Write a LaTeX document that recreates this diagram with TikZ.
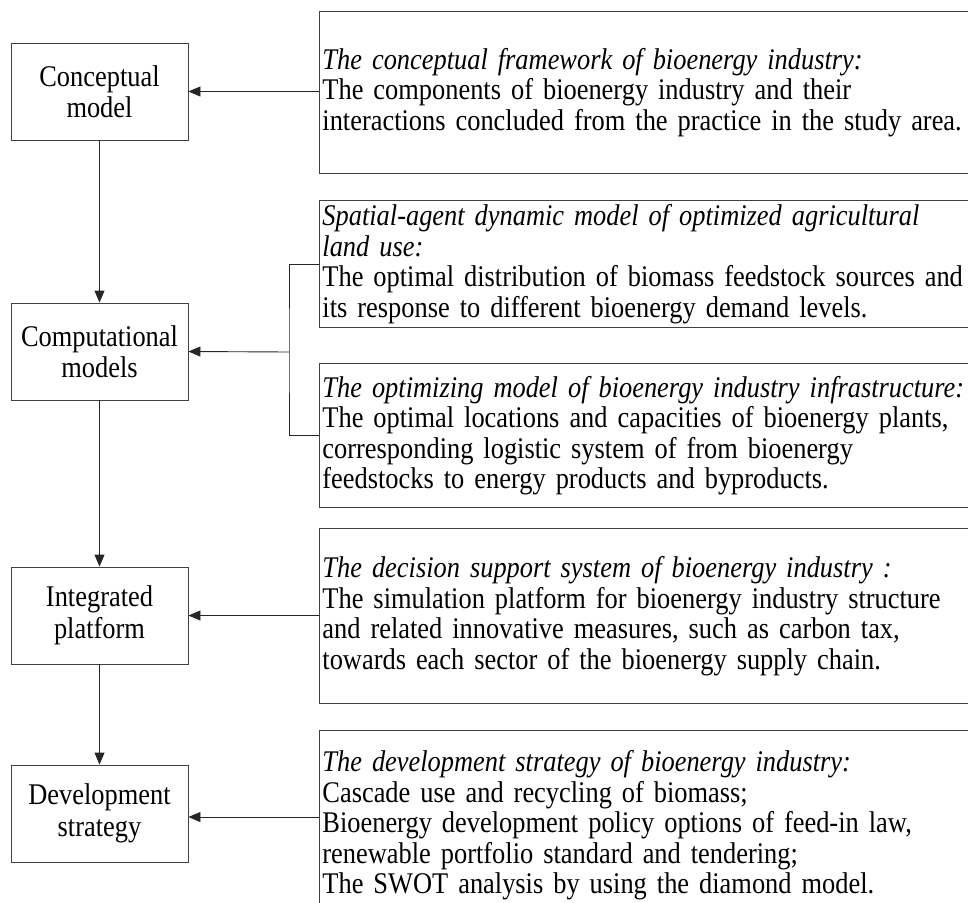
\documentclass[tikz,border=0pt]{standalone}
\usepackage{fontspec}
\setmainfont{Liberation Serif}[FakeStretch=0.88]
\usetikzlibrary{arrows.meta,calc}
\begin{document}
\begin{tikzpicture}[x=1pt,y=-1pt,
  lbox/.style={draw=black!75, line width=0.9pt, minimum width=177pt, minimum height=97pt, align=center, inner sep=0pt, font=\fontsize{30}{31.5}\selectfont},
  rbox/.style={draw=black!75, line width=0.9pt, anchor=north west, text width=700pt, inner xsep=3pt, inner ysep=0pt, align=left, font=\fontsize{30}{30.5}\selectfont},
  arr/.style={line width=0.9pt, draw=black!85, -{Triangle[length=12pt,width=10pt]}},
  link/.style={line width=0.9pt, draw=black!85}]
\clip (0,0) rectangle (968,902);
\fill[white] (0,0) rectangle (968,902);
% left column
\node[lbox] (concept) at (99.5,91.5) {Conceptual\\model};
\node[lbox] (comput) at (99.5,351.5) {Computational\\models};
\node[lbox] (integ) at (99.5,615.5) {Integrated\\platform};
\node[lbox] (dev) at (99.5,813.5) {Development\\strategy};
% right column
\node[rbox, minimum height=162pt] (b1) at (319,11) {\textit{The conceptual framework of bioenergy industry:}\\The components of bioenergy industry and their\\interactions concluded from the practice in the study area.};
\node[rbox, minimum height=127pt] (b2) at (319,200) {\textit{Spatial-agent dynamic model of optimized agricultural}\\\textit{land use:}\\The optimal distribution of biomass feedstock sources and\\its response to different bioenergy demand levels.};
\node[rbox, minimum height=144pt] (b3) at (319,363) {\textit{The optimizing model of bioenergy industry infrastructure:}\\The optimal locations and capacities of bioenergy plants,\\corresponding logistic system of from bioenergy\\feedstocks to energy products and byproducts.};
\node[rbox, minimum height=175pt] (b4) at (319,528) {\textit{The decision support system of bioenergy industry :}\\The simulation platform for bioenergy industry structure\\and related innovative measures, such as carbon tax,\\towards each sector of the bioenergy supply chain.};
\node[rbox, minimum height=190pt] (b5) at (319,730) {\textit{The development strategy of bioenergy industry:}\\Cascade use and recycling of biomass;\\Bioenergy development policy options of feed-in law,\\renewable portfolio standard and tendering;\\The SWOT analysis by using the diamond model.};
% vertical flow
\draw[arr] (concept) -- (comput);
\draw[arr] (comput) -- (integ);
\draw[arr] (integ) -- (dev);
% horizontal links
\draw[arr] (concept.east -| b1.west) -- (concept.east);
\coordinate (j) at (289,352);
\draw[link] (b2.west) -| (j) |- (b3.west);
\draw[arr] (j) -- (comput.east);
\draw[arr] (integ.east -| b4.west) -- (integ.east);
\draw[arr] ($(dev.east -| b5.west)+(0,3.5)$) -- ($(dev.east)+(0,3.5)$);
\end{tikzpicture}
\end{document}
